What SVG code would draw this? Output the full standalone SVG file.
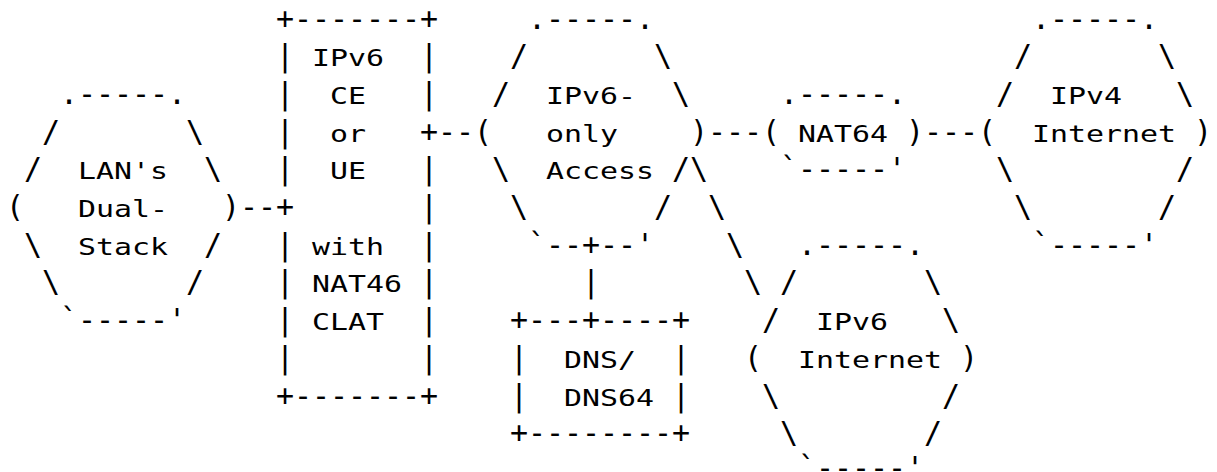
<svg xmlns="http://www.w3.org/2000/svg" width="1217" height="472" viewBox="0 0 1217 472">
<style>
text{font-family:"DejaVu Sans Mono","Liberation Mono",monospace;fill:#000;white-space:pre}
.a{font-size:30px}
.l{font-size:23.5px}
</style>
<rect width="1217" height="472" fill="#fff"/>
<g id="lan">
<text class="a" x="60" y="103.9" textLength="126">.-----.</text>
<text class="a" x="42" y="141.6">/</text>
<text class="a" x="186" y="141.6">\</text>
<text class="a" x="24" y="179.3">/</text>
<text class="l" x="78" y="179.3" textLength="90" lengthAdjust="spacingAndGlyphs">LAN's</text>
<text class="a" x="204" y="179.3">\</text>
<text class="a" x="6" y="217">(</text>
<text class="l" x="78" y="217" textLength="90" lengthAdjust="spacingAndGlyphs">Dual-</text>
<text class="a" x="222" y="217">)</text>
<text class="a" x="24" y="254.7">\</text>
<text class="l" x="78" y="254.7" textLength="90" lengthAdjust="spacingAndGlyphs">Stack</text>
<text class="a" x="204" y="254.7">/</text>
<text class="a" x="42" y="292.4">\</text>
<text class="a" x="186" y="292.4">/</text>
<text class="a" x="60" y="330.1" textLength="126">`-----'</text>
</g>
<g id="ce">
<text class="a" x="276" y="28.5" textLength="162">+-------+</text>
<text class="a" x="276" y="66.2">|</text>
<text class="l" x="312" y="66.2" textLength="72" lengthAdjust="spacingAndGlyphs">IPv6</text>
<text class="a" x="420" y="66.2">|</text>
<text class="a" x="276" y="103.9">|</text>
<text class="l" x="330" y="103.9" textLength="36" lengthAdjust="spacingAndGlyphs">CE</text>
<text class="a" x="420" y="103.9">|</text>
<text class="a" x="276" y="141.6">|</text>
<text class="l" x="330" y="141.6" textLength="36" lengthAdjust="spacingAndGlyphs">or</text>
<text class="a" x="420" y="141.6">+</text>
<text class="a" x="276" y="179.3">|</text>
<text class="l" x="330" y="179.3" textLength="36" lengthAdjust="spacingAndGlyphs">UE</text>
<text class="a" x="420" y="179.3">|</text>
<text class="a" x="276" y="217">+</text>
<text class="a" x="420" y="217">|</text>
<text class="a" x="276" y="254.7">|</text>
<text class="l" x="312" y="254.7" textLength="72" lengthAdjust="spacingAndGlyphs">with</text>
<text class="a" x="420" y="254.7">|</text>
<text class="a" x="276" y="292.4">|</text>
<text class="l" x="312" y="292.4" textLength="90" lengthAdjust="spacingAndGlyphs">NAT46</text>
<text class="a" x="420" y="292.4">|</text>
<text class="a" x="276" y="330.1">|</text>
<text class="l" x="312" y="330.1" textLength="72" lengthAdjust="spacingAndGlyphs">CLAT</text>
<text class="a" x="420" y="330.1">|</text>
<text class="a" x="276" y="367.8">|</text>
<text class="a" x="420" y="367.8">|</text>
<text class="a" x="276" y="405.5" textLength="162">+-------+</text>
</g>
<g id="access">
<text class="a" x="528" y="28.5" textLength="126">.-----.</text>
<text class="a" x="510" y="66.2">/</text>
<text class="a" x="654" y="66.2">\</text>
<text class="a" x="492" y="103.9">/</text>
<text class="l" x="546" y="103.9" textLength="90" lengthAdjust="spacingAndGlyphs">IPv6-</text>
<text class="a" x="672" y="103.9">\</text>
<text class="a" x="474" y="141.6">(</text>
<text class="l" x="546" y="141.6" textLength="72" lengthAdjust="spacingAndGlyphs">only</text>
<text class="a" x="690" y="141.6">)</text>
<text class="a" x="492" y="179.3">\</text>
<text class="l" x="546" y="179.3" textLength="108" lengthAdjust="spacingAndGlyphs">Access</text>
<text class="a" x="672" y="179.3">/</text>
<text class="a" x="510" y="217">\</text>
<text class="a" x="654" y="217">/</text>
<text class="a" x="528" y="254.7" textLength="126">`--+--'</text>
</g>
<g id="nat64">
<text class="a" x="780" y="103.9" textLength="126">.-----.</text>
<text class="a" x="762" y="141.6">(</text>
<text class="l" x="798" y="141.6" textLength="90" lengthAdjust="spacingAndGlyphs">NAT64</text>
<text class="a" x="906" y="141.6">)</text>
<text class="a" x="780" y="179.3" textLength="126">`-----'</text>
</g>
<g id="ipv4-internet">
<text class="a" x="1032" y="28.5" textLength="126">.-----.</text>
<text class="a" x="1014" y="66.2">/</text>
<text class="a" x="1158" y="66.2">\</text>
<text class="a" x="996" y="103.9">/</text>
<text class="l" x="1050" y="103.9" textLength="72" lengthAdjust="spacingAndGlyphs">IPv4</text>
<text class="a" x="1176" y="103.9">\</text>
<text class="a" x="978" y="141.6">(</text>
<text class="l" x="1032" y="141.6" textLength="144" lengthAdjust="spacingAndGlyphs">Internet</text>
<text class="a" x="1194" y="141.6">)</text>
<text class="a" x="996" y="179.3">\</text>
<text class="a" x="1176" y="179.3">/</text>
<text class="a" x="1014" y="217">\</text>
<text class="a" x="1158" y="217">/</text>
<text class="a" x="1032" y="254.7" textLength="126">`-----'</text>
</g>
<g id="dns">
<text class="a" x="510" y="330.1" textLength="180">+---+----+</text>
<text class="a" x="510" y="367.8">|</text>
<text class="l" x="564" y="367.8" textLength="72" lengthAdjust="spacingAndGlyphs">DNS/</text>
<text class="a" x="672" y="367.8">|</text>
<text class="a" x="510" y="405.5">|</text>
<text class="l" x="564" y="405.5" textLength="90" lengthAdjust="spacingAndGlyphs">DNS64</text>
<text class="a" x="672" y="405.5">|</text>
<text class="a" x="510" y="443.2" textLength="180">+--------+</text>
</g>
<g id="ipv6-internet">
<text class="a" x="798" y="254.7" textLength="126">.-----.</text>
<text class="a" x="780" y="292.4">/</text>
<text class="a" x="924" y="292.4">\</text>
<text class="a" x="762" y="330.1">/</text>
<text class="l" x="816" y="330.1" textLength="72" lengthAdjust="spacingAndGlyphs">IPv6</text>
<text class="a" x="942" y="330.1">\</text>
<text class="a" x="744" y="367.8">(</text>
<text class="l" x="798" y="367.8" textLength="144" lengthAdjust="spacingAndGlyphs">Internet</text>
<text class="a" x="960" y="367.8">)</text>
<text class="a" x="762" y="405.5">\</text>
<text class="a" x="942" y="405.5">/</text>
<text class="a" x="780" y="443.2">\</text>
<text class="a" x="924" y="443.2">/</text>
<text class="a" x="798" y="478" textLength="126">`-----'</text>
</g>
<g id="connectors">
<text class="a" x="240" y="217" textLength="36">--</text>
<text class="a" x="438" y="141.6" textLength="36">--</text>
<text class="a" x="708" y="141.6" textLength="54">---</text>
<text class="a" x="924" y="141.6" textLength="54">---</text>
<text class="a" x="582" y="292.4">|</text>
<text class="a" x="690" y="179.3">\</text>
<text class="a" x="708" y="217">\</text>
<text class="a" x="726" y="254.7">\</text>
<text class="a" x="744" y="292.4">\</text>
</g>
</svg>
